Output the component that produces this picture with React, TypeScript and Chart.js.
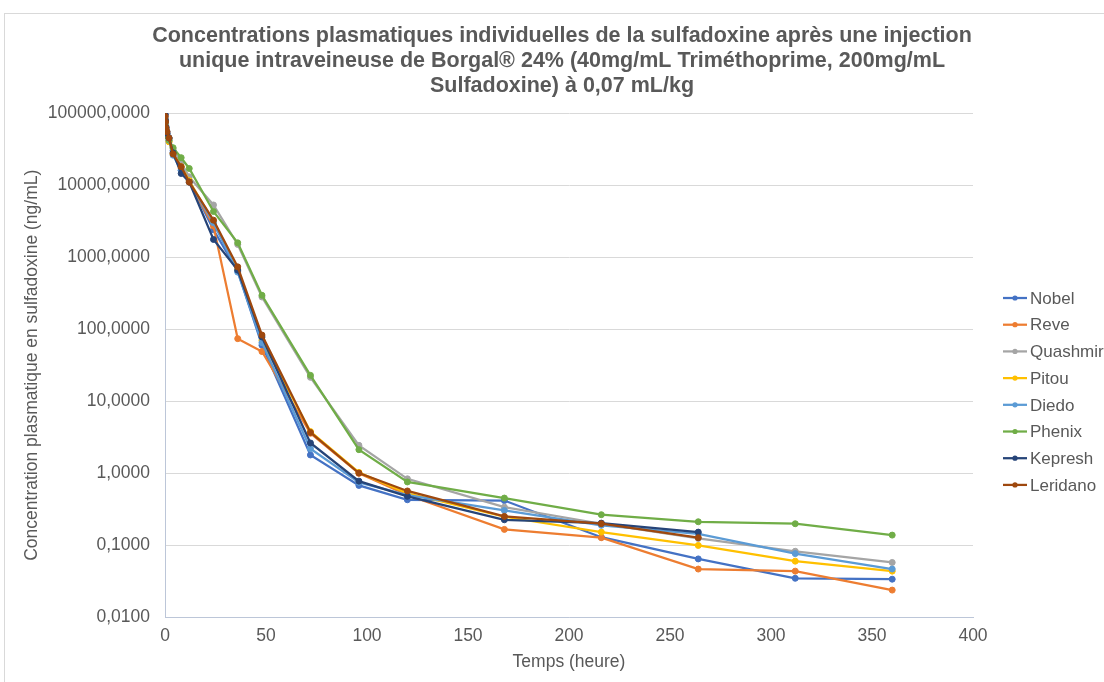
import React, { useEffect, useRef } from "react";
import { Chart, registerables } from "chart.js";

Chart.register(...registerables);

const FONT = '"Liberation Sans", Arial, Helvetica, sans-serif';

const timeHours = [0.083, 0.25, 0.5, 1, 2, 4, 8, 12, 24, 36, 48, 72, 96, 120, 168, 216, 264, 312, 360];

const nobel = [95000, 80000, 65000, 55000, 45000, 30000, 16000, 11500, 2400, 640, 60, 1.8, 0.68, 0.43, 0.42, 0.13, 0.065, 0.035, 0.034];
const reve = [85000, 70000, 60000, 50000, 40000, 28000, 17000, 11000, 2700, 74, 49, 3.6, 1.0, 0.5, 0.167, 0.128, 0.047, 0.044, 0.024];
const quashmir = [90000, 75000, 62000, 52000, 44000, 32000, 20000, 13000, 5300, 1500, 280, 21.5, 2.45, 0.84, 0.34, 0.2, 0.125, 0.083, 0.058];
const pitou = [80000, 68000, 56000, 48000, 40000, 27000, 18000, 11500, 3100, 680, 70, 3.8, 1.03, 0.53, 0.25, 0.153, 0.1, 0.0605, 0.044];
const diedo = [85000, 72000, 60000, 50000, 42000, 26000, 16000, 11000, 3000, 620, 65, 2.2, 0.75, 0.5, 0.306, 0.19, 0.145, 0.077, 0.047];
const phenix = [75000, 65000, 55000, 48000, 42000, 33000, 24000, 17000, 4300, 1580, 296, 22.9, 2.13, 0.76, 0.454, 0.267, 0.213, 0.2, 0.139];
const kepresh = [95000, 78000, 63000, 52000, 45000, 28000, 14500, 11000, 1760, 660, 78, 2.64, 0.78, 0.48, 0.227, 0.204, 0.153, null, null];
const leridano = [90000, 75000, 62000, 55000, 45000, 27000, 18000, 11000, 3260, 733, 83, 3.7, 1.01, 0.57, 0.253, 0.2, 0.128, null, null];

const seriesNames = ["Nobel", "Reve", "Quashmir", "Pitou", "Diedo", "Phenix", "Kepresh", "Leridano"];
const seriesValues = [nobel, reve, quashmir, pitou, diedo, phenix, kepresh, leridano];
const seriesColors = ["#4472C4", "#ED7D31", "#A5A5A5", "#FFC000", "#5B9BD5", "#70AD47", "#264478", "#9E480E"];

const yTickValues = [0.01, 0.1, 1, 10, 100, 1000, 10000, 100000];
const xTickMin = 0;
const xTickMax = 400;
const xTickStep = 50;

const titleLines = [
  "Concentrations plasmatiques individuelles de la sulfadoxine après une injection",
  "unique intraveineuse de Borgal® 24% (40mg/mL Triméthoprime, 200mg/mL",
  "Sulfadoxine) à 0,07 mL/kg",
];
const xAxisTitle = "Temps (heure)";
const yAxisTitle = "Concentration plasmatique en sulfadoxine (ng/mL)";

const sideLegend = {
  id: "sideLegend",
  afterDraw(chart: any) {
    const ctx = chart.ctx;
    const area = chart.chartArea;
    const x0 = area.right + 30;
    const spacing = 26.7;
    const yStart = area.top + 185;
    ctx.save();
    ctx.font = `17px ${FONT}`;
    ctx.textBaseline = "middle";
    ctx.textAlign = "left";
    chart.data.datasets.forEach((ds: any, i: number) => {
      const y = yStart + i * spacing;
      ctx.strokeStyle = ds.borderColor;
      ctx.lineWidth = 2.25;
      ctx.beginPath();
      ctx.moveTo(x0, y);
      ctx.lineTo(x0 + 24, y);
      ctx.stroke();
      ctx.fillStyle = ds.borderColor;
      ctx.beginPath();
      ctx.arc(x0 + 12, y, 2.6, 0, Math.PI * 2);
      ctx.fill();
      ctx.fillStyle = "#595959";
      ctx.fillText(ds.label, x0 + 27, y + 1);
    });
    ctx.restore();
  },
};

export default function App() {
  const ref = useRef<HTMLCanvasElement | null>(null);

  useEffect(() => {
    if (!ref.current) return;
    const n = seriesNames.length;
    const datasets = seriesNames.map((name, i) => ({
      label: name,
      data: timeHours.map((t, j) => ({ x: t, y: seriesValues[i][j] })),
      borderColor: seriesColors[i],
      backgroundColor: seriesColors[i],
      borderWidth: 2.25,
      pointRadius: 3,
      pointBorderWidth: 1,
      pointBackgroundColor: seriesColors[i],
      pointBorderColor: seriesColors[i],
      tension: 0,
      order: n - i,
      xAxisID: "x",
      yAxisID: "y",
    }));

    const chart = new Chart(ref.current, {
      type: "line",
      data: { datasets },
      plugins: [sideLegend],
      options: {
        animation: false,
        responsive: false,
        layout: { padding: { left: 13, right: 13, top: 0, bottom: 5 } },
        plugins: {
          legend: { display: false },
          tooltip: { enabled: false },
          title: {
            display: true,
            text: titleLines,
            color: "#595959",
            font: { family: FONT, size: 21.5, weight: "bold", lineHeight: 1.163 },
            padding: { top: 10, bottom: 14 },
          },
        },
        scales: {
          x: {
            type: "linear",
            min: xTickMin,
            max: xTickMax,
            ticks: {
              stepSize: xTickStep,
              color: "#595959",
              font: { family: FONT, size: 17.5 },
              padding: 8.5,
            },
            grid: { display: false, drawTicks: false },
            border: { display: true, color: "#BCC6D8", width: 1 },
            title: {
              display: true,
              text: xAxisTitle,
              color: "#595959",
              font: { family: FONT, size: 17.5 },
              padding: { top: -3.5, bottom: 4 },
            },
          },
          y: {
            type: "logarithmic",
            position: "left",
            min: yTickValues[0],
            max: yTickValues[yTickValues.length - 1],
            afterBuildTicks: (scale: any) => {
              scale.ticks = yTickValues.map((v) => ({ value: v }));
            },
            afterFit: (scale: any) => {
              scale.width = 147;
            },
            ticks: {
              color: "#595959",
              font: { family: FONT, size: 17.5 },
              padding: 15,
              callback: (v: any) => Number(v).toFixed(4).replace(".", ","),
            },
            grid: { color: "#D9D9D9", drawTicks: false, lineWidth: 1 },
            border: { display: true, color: "#BCC6D8", width: 1 },
            title: {
              display: true,
              text: yAxisTitle,
              color: "#595959",
              font: { family: FONT, size: 17.5 },
              padding: { top: 3.5, bottom: 4 },
            },
          },
          legendSpace: {
            type: "linear",
            position: "right",
            display: true,
            ticks: { display: false },
            grid: { display: false, drawTicks: false },
            border: { display: false },
            afterFit: (scale: any) => {
              scale.width = 133;
            },
          },
        },
      } as any,
    });
    return () => chart.destroy();
  }, []);

  return (
    <div
      style={{
        position: "fixed",
        left: 0,
        top: 0,
        width: 1104,
        height: 682,
        overflow: "hidden",
        background: "#ffffff",
      }}
    >
      <div
        style={{
          position: "absolute",
          left: 4,
          top: 13,
          width: 1130,
          height: 700,
          border: "1px solid #D9D9D9",
          background: "#ffffff",
        }}
      >
        <canvas ref={ref} width={1114} height={668} style={{ display: "block" }} />
      </div>
    </div>
  );
}
